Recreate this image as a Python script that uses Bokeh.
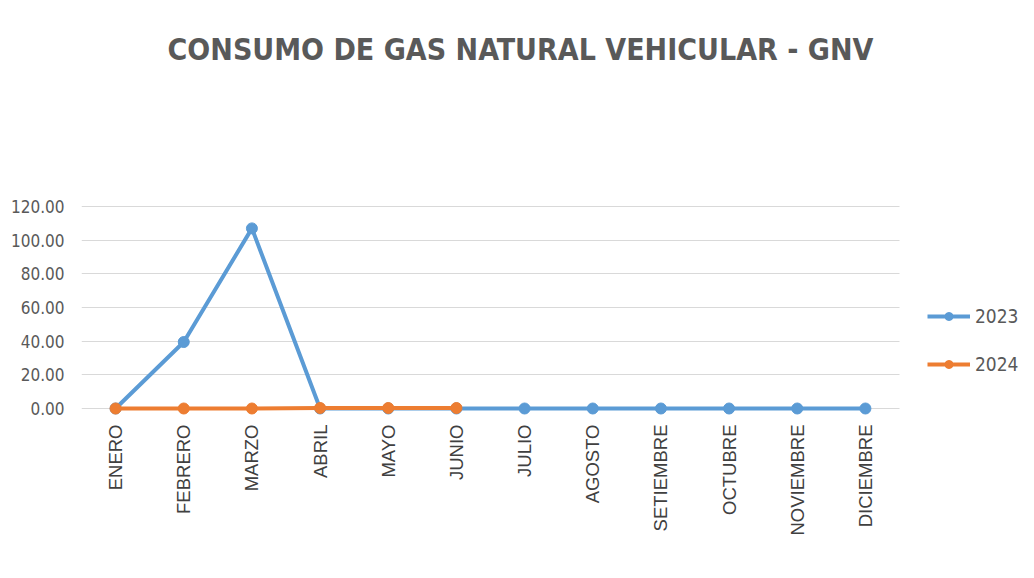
from bokeh.plotting import figure
from bokeh.models import Range1d, FixedTicker, NumeralTickFormatter, Legend, LegendItem, Label
from bokeh.embed import file_html
from bokeh.resources import INLINE
import math

months = ["ENERO", "FEBRERO", "MARZO", "ABRIL", "MAYO", "JUNIO", "JULIO",
          "AGOSTO", "SETIEMBRE", "OCTUBRE", "NOVIEMBRE", "DICIEMBRE"]
y2023 = [0, 39.5, 107, 0, 0, 0, 0, 0, 0, 0, 0, 0]
months_2024 = ["ENERO", "FEBRERO", "MARZO", "ABRIL", "MAYO", "JUNIO"]
y2024 = [0, 0, 0, 0.3, 0.3, 0.3]
y_ticks = [0, 20, 40, 60, 80, 100, 120]
title_text = "CONSUMO DE GAS NATURAL VEHICULAR - GNV"

BLUE = "#5B9BD5"
ORANGE = "#ED7D31"
GRAY = "#595959"
NARROW = "'DejaVu Sans Condensed', 'Liberation Sans Narrow', sans-serif"

pos = {m: i + 1 for i, m in enumerate(months)}
x2023 = [pos[m] for m in months]
x2024 = [pos[m] for m in months_2024]

W, H = 1026, 570
LEFT, BOTTOM = 81, 154
ZERO_Y = 408
frame_w = W - LEFT
frame_h = H - BOTTOM
px_per_cat = 818 / len(months)
px_per_unit = 202 / 120.0
y_start = -(frame_h - ZERO_Y) / px_per_unit
y_end = y_start + frame_h / px_per_unit

p = figure(width=W, height=H, output_backend="svg", toolbar_location=None,
           x_range=Range1d(0.5, 0.5 + frame_w / px_per_cat),
           y_range=Range1d(y_start, y_end),
           min_border_left=LEFT, min_border_right=0, min_border_top=0, min_border_bottom=BOTTOM)

p.outline_line_color = None
p.xgrid.grid_line_color = None
p.ygrid.grid_line_color = "#D9D9D9"
p.ygrid.grid_line_width = 1
p.ygrid.cross_bounds = (0.5, len(months) + 0.5)

p.yaxis.ticker = FixedTicker(ticks=y_ticks)
p.yaxis.formatter = NumeralTickFormatter(format="0.00")
p.yaxis.axis_line_color = None
p.yaxis.major_tick_line_color = None
p.yaxis.minor_tick_line_color = None
p.yaxis.major_label_text_font = NARROW
p.yaxis.major_label_text_font_size = "17px"
p.yaxis.major_label_text_color = GRAY
p.yaxis.major_label_standoff = 11

p.xaxis.ticker = FixedTicker(ticks=x2023)
p.xaxis.major_label_overrides = {pos[m]: m for m in months}
p.xaxis.axis_line_color = None
p.xaxis.major_tick_line_color = None
p.xaxis.minor_tick_line_color = None
p.xaxis.major_label_orientation = math.pi / 2
p.xaxis.major_label_text_font = "Liberation Sans"
p.xaxis.major_label_text_font_size = "18.5px"
p.xaxis.major_label_text_color = "#404040"
p.xaxis.major_label_standoff = 2

l1 = p.line(x2023, y2023, line_color=BLUE, line_width=4)
c1 = p.scatter(x2023, y2023, size=11, fill_color=BLUE, line_color=BLUE)
l2 = p.line(x2024, y2024, line_color=ORANGE, line_width=4)
c2 = p.scatter(x2024, y2024, size=11, fill_color=ORANGE, line_color=ORANGE)

legend = Legend(items=[LegendItem(label="2023", renderers=[l1, c1]),
                       LegendItem(label="2024", renderers=[l2, c2])],
                location=(846, 41), orientation="vertical")
legend.border_line_color = None
legend.background_fill_alpha = 0
legend.padding = 0
legend.margin = 0
legend.label_text_font = NARROW
legend.label_text_font_size = "19px"
legend.label_text_color = GRAY
legend.glyph_width = 43
legend.glyph_height = 20
legend.label_height = 20
legend.spacing = 26
legend.label_standoff = 5
p.add_layout(legend, "center")

title = Label(x=439, y=frame_h - 49, x_units="screen", y_units="screen", text=title_text,
              text_align="center", text_baseline="middle",
              text_font=NARROW, text_font_size="30px", text_font_style="bold",
              text_color=GRAY)
p.add_layout(title)

open("out.html", "w").write(file_html(p, INLINE))
